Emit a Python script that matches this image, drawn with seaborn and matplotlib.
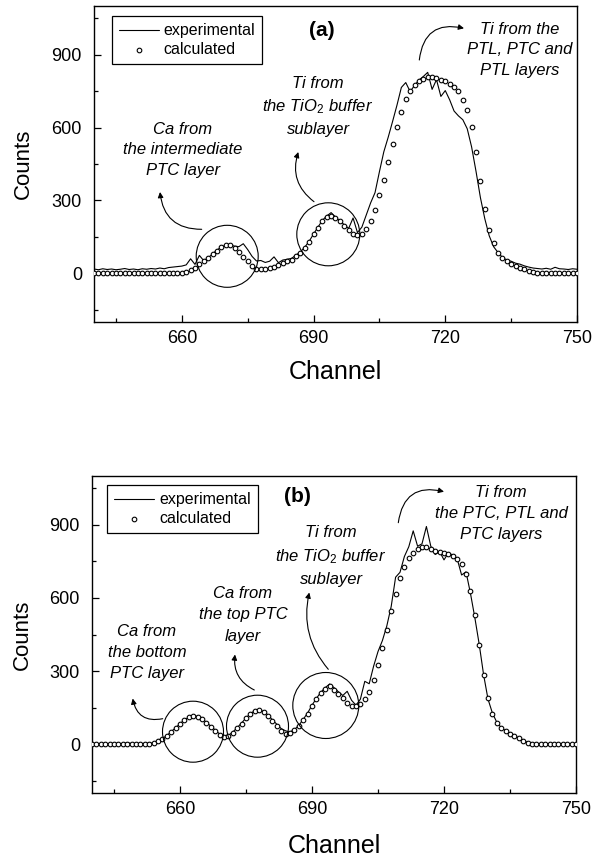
import matplotlib
matplotlib.use("Agg")
import matplotlib.pyplot as plt
from matplotlib.patches import Ellipse
from matplotlib.ticker import AutoMinorLocator
import pandas as pd
import seaborn as sns

# ---------------- data ----------------
channels = list(range(640, 751))

calc_a = [0, 0, 0, 0, 0, 0, 0, 0, 0, 0,
          0, 0, 0, 0, 0, 0, 0, 0, 1, 2,
          3, 5, 14, 23, 37, 51, 62, 78, 94, 108,
          116, 115, 105, 88, 68, 51, 30, 19, 16, 19,
          22, 27, 33, 41, 49, 55, 71, 85, 105, 129,
          160, 188, 215, 231, 238, 229, 215, 195, 178, 163,
          156, 163, 181, 215, 260, 321, 386, 459, 534, 601,
          663, 718, 749, 773, 791, 801, 807, 808, 804, 797,
          791, 781, 767, 749, 715, 674, 601, 500, 379, 266,
          178, 123, 85, 64, 51, 40, 30, 23, 16, 10,
          5, 3, 1, 0, 0, 0, 0, 0, 0, 0,
          0]

exp_a = [18, 15, 19, 16, 18, 15, 17, 20, 16, 18,
         15, 19, 17, 20, 18, 22, 19, 24, 26, 28,
         30, 35, 60, 37, 74, 52, 64, 80, 96, 108,
         116, 117, 112, 110, 122, 98, 70, 51, 53, 45,
         50, 68, 44, 55, 58, 62, 75, 88, 108, 132,
         162, 190, 218, 236, 250, 232, 216, 200, 185, 228,
         168, 190, 240, 290, 332, 418, 500, 560, 625, 692,
         765, 785, 748, 773, 795, 810, 827, 757, 797, 728,
         752, 714, 668, 648, 632, 595, 520, 420, 312, 225,
         155, 110, 86, 66, 55, 50, 42, 38, 31, 26,
         22, 20, 18, 21, 17, 25, 19, 18, 16, 19,
         17]

calc_b = [0, 0, 0, 0, 0, 0, 0, 0, 0, 0,
          0, 0, 0, 0, 5, 14, 22, 34, 51, 66,
          82, 99, 110, 115, 113, 103, 89, 71, 55, 38,
          30, 34, 48, 66, 85, 107, 124, 137, 140, 132,
          117, 96, 75, 55, 41, 45, 58, 75, 100, 126,
          157, 185, 210, 227, 237, 224, 206, 188, 169, 155,
          155, 167, 184, 216, 264, 323, 395, 470, 547, 618,
          680, 728, 763, 786, 800, 808, 808, 801, 794, 787,
          783, 779, 772, 760, 738, 698, 629, 529, 405, 285,
          188, 126, 89, 66, 55, 44, 34, 25, 15, 7,
          2, 0, 0, 0, 0, 0, 0, 0, 0, 0,
          0]

exp_b = [2, 0, 3, 1, 0, 2, 4, 1, 6, 3,
         1, 2, 4, 3, 6, 14, 24, 35, 52, 67,
         84, 100, 111, 117, 114, 104, 90, 74, 58, 42,
         34, 36, 50, 68, 87, 108, 125, 138, 141, 134,
         120, 100, 82, 64, 55, 50, 60, 77, 102, 128,
         160, 188, 213, 232, 247, 232, 215, 200, 217, 180,
         160, 185, 258, 248, 320, 380, 425, 485, 565, 685,
         705, 770, 810, 875, 812, 822, 893, 812, 778, 790,
         756, 785, 775, 760, 694, 707, 620, 520, 410, 285,
         185, 128, 90, 68, 56, 45, 35, 26, 16, 8,
         3, 1, 0, 2, 0, 1, 0, 2, 0, 1,
         0]

x_ticks = [660, 690, 720, 750]
y_ticks = [0, 300, 600, 900]
x_range = (640, 750)
y_range = (-200, 1100)

# ---------------- style ----------------
sns.set_theme(style="ticks")
plt.rcParams.update({
    "font.family": ["Liberation Sans", "DejaVu Sans"],
    "mathtext.fontset": "custom",
    "mathtext.rm": "Liberation Sans",
    "mathtext.it": "Liberation Sans:italic",
    "axes.linewidth": 1.0,
    "axes.edgecolor": "black",
    "text.color": "black",
    "axes.labelcolor": "black",
    "xtick.color": "black",
    "ytick.color": "black",
})

W, H = 592, 861
fig = plt.figure(figsize=(W / 100, H / 100), dpi=100)
fig.patch.set_facecolor("white")


def rect(left, right, top, bottom):
    return [left / W, 1 - bottom / H, (right - left) / W, (bottom - top) / H]


boxes = {"a": (94, 577, 6, 322), "b": (92, 576, 476, 793)}


def to_axes(box, x, y):
    left, right, top, bottom = box
    return (x - left) / (right - left), (bottom - y) / (bottom - top)


panels = {
    "a": dict(
        exp=exp_a, calc=calc_a, tag_xy=(322, 30), legend_xy=(111.7, 16),
        xlabel_y=372, ylabel_x=23,
        notes=[((183, 150), "Ca from\nthe intermediate\nPTC layer"),
               ((318, 106.5), "Ti from\nthe TiO$_2$ buffer\nsublayer"),
               ((520, 50), "Ti from the\nPTL, PTC and\nPTL layers")],
        rings=[((227.2, 256.3), 31), ((328.3, 234.3), 31.5)],
        arrows=[((201.7, 229.3), (160, 192), -0.45),
                ((314, 201.7), (298.3, 152), -0.35),
                ((419.3, 60), (464, 28.3), -0.55)],
    ),
    "b": dict(
        exp=exp_b, calc=calc_b, tag_xy=(297, 497), legend_xy=(107.3, 485),
        xlabel_y=846, ylabel_x=22,
        notes=[((147, 652.3), "Ca from\nthe bottom\nPTC layer"),
               ((243, 615), "Ca from\nthe top PTC\nlayer"),
               ((331, 556), "Ti from\nthe TiO$_2$ buffer\nsublayer"),
               ((501, 513.5), "Ti from\nthe PTC, PTL and\nPTC layers")],
        rings=[((193, 731.7), 30.5), ((257.5, 726.2), 31), ((325.8, 705.5), 33)],
        arrows=[((162.7, 718.7), (132.7, 698.5), -0.5),
                ((254.3, 690), (235, 654.5), -0.35),
                ((328.3, 669.3), (309.3, 592.5), -0.25),
                ((398.3, 522.7), (444, 491.7), -0.55)],
    ),
}

for key, cfg in panels.items():
    box = boxes[key]
    ax = fig.add_axes(rect(*box))
    df = pd.DataFrame({"Channel": channels, "experimental": cfg["exp"],
                       "calculated": cfg["calc"]})

    sns.lineplot(data=df, x="Channel", y="experimental", ax=ax, color="black",
                 lw=0.8, label="experimental", zorder=2)
    sns.scatterplot(data=df, x="Channel", y="calculated", ax=ax, marker="o",
                    s=11, facecolor="white", edgecolor="black", linewidth=0.8,
                    label="calculated", zorder=3)

    ax.set_xlim(*x_range)
    ax.set_ylim(*y_range)
    ax.set_xticks(x_ticks)
    ax.set_yticks(y_ticks)
    ax.xaxis.set_minor_locator(AutoMinorLocator(2))
    ax.yaxis.set_minor_locator(AutoMinorLocator(2))
    ax.tick_params(which="both", direction="in", top=False, right=False,
                   width=0.9, labelsize=13)
    ax.tick_params(which="major", length=5)
    ax.tick_params(which="minor", length=3)
    ax.tick_params(axis="x", pad=6)
    ax.tick_params(axis="y", pad=8.7)
    for sp in ax.spines.values():
        sp.set_visible(True)
        sp.set_linewidth(1.0)

    left, right, top, bottom = box
    ax.set_xlabel("Channel", fontsize=18)
    ax.set_ylabel("Counts", fontsize=16)
    ax.xaxis.set_label_coords(0.5, to_axes(box, left, cfg["xlabel_y"])[1])
    ax.xaxis.label.set_va("center")
    ax.yaxis.set_label_coords(to_axes(box, cfg["ylabel_x"], top)[0], 0.5)
    ax.yaxis.label.set_va("center")

    lx, ly = to_axes(box, *cfg["legend_xy"])
    ax.legend(loc="upper left", bbox_to_anchor=(lx, ly), borderaxespad=0,
              frameon=True, fancybox=False, edgecolor="black", framealpha=1,
              fontsize=11.5, handlelength=2.5, handletextpad=0.3,
              borderpad=0.45, labelspacing=0.25, scatterpoints=1)
    ax.get_legend().get_frame().set_linewidth(0.9)

    tx, ty = to_axes(box, *cfg["tag_xy"])
    ax.text(tx, ty, f"({key})", transform=ax.transAxes, ha="center",
            va="center", fontsize=15, fontweight="bold")

    for (px, py), txt in cfg["notes"]:
        nx, ny = to_axes(box, px, py)
        ax.text(nx, ny, txt, transform=ax.transAxes, ha="center", va="center",
                multialignment="center", fontsize=12, fontstyle="italic",
                linespacing=1.5)

    for (px, py), r in cfg["rings"]:
        cx, cy = to_axes(box, px, py)
        ax.add_patch(Ellipse((cx, cy), 2 * r / (right - left),
                             2 * r / (bottom - top), transform=ax.transAxes,
                             fill=False, edgecolor="black", lw=0.8,
                             zorder=4))

    for start, end, rad in cfg["arrows"]:
        ax.annotate("", xy=to_axes(box, *end), xycoords="axes fraction",
                    xytext=to_axes(box, *start), textcoords="axes fraction",
                    arrowprops=dict(arrowstyle="-|>", color="black", lw=0.8,
                                    mutation_scale=8, shrinkA=0, shrinkB=0,
                                    connectionstyle=f"arc3,rad={rad}"))

fig.savefig("out.png", dpi=100, facecolor="white")
